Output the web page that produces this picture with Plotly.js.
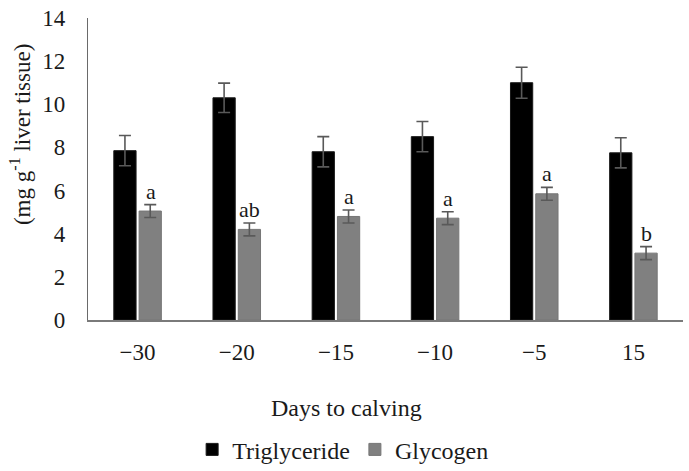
<!DOCTYPE html>
<html>
<head>
<meta charset="utf-8">
<script src="https://cdn.plot.ly/plotly-3.0.1.min.js"></script>
<style>
  html, body { margin: 0; padding: 0; background: #fff; }
  #chart { width: 689px; height: 471px; }
</style>
</head>
<body>
<div id="chart"></div>
<script>
// Days relative to calving
const days = ['\u221230', '\u221220', '\u221215', '\u221210', '\u22125', '15'];

// Liver triglyceride (mg g-1 liver tissue), mean and SE
const triglyceride = [7.85, 10.3, 7.8, 8.5, 11.0, 7.75];
const triglycerideSE = [0.7, 0.68, 0.7, 0.7, 0.72, 0.7];

// Liver glycogen (mg g-1 liver tissue), mean and SE
const glycogen = [5.05, 4.2, 4.8, 4.72, 5.85, 3.1];
const glycogenSE = [0.3, 0.3, 0.3, 0.3, 0.3, 0.3];

// Significance letters for glycogen
const glycogenLetters = ['a', 'ab', 'a', 'a', 'a', 'b'];

const serif = '"Times New Roman", "Liberation Serif", serif';
const textColor = '#1a1a1a';

const traces = [
  {
    type: 'bar', name: 'Triglyceride', x: days, y: triglyceride,
    marker: { color: '#000000', line: { color: '#1a1a1a', width: 1 } },
    error_y: { type: 'data', array: triglycerideSE, visible: true, color: '#595959', thickness: 1.6, width: 6 }
  },
  {
    type: 'bar', name: 'Glycogen', x: days, y: glycogen,
    marker: { color: '#808080', line: { color: '#767676', width: 1 } },
    error_y: { type: 'data', array: glycogenSE, visible: true, color: '#595959', thickness: 1.6, width: 6 }
  }
];

// letters sit above each glycogen error bar (category index positions)
const annotations = glycogenLetters.map((t, i) => ({
  x: i, y: glycogen[i] + glycogenSE[i], xref: 'x', yref: 'y',
  text: t, showarrow: false, xanchor: 'center', yanchor: 'bottom',
  xshift: 13, yshift: -1,
  font: { family: serif, size: 22, color: textColor }
}));

annotations.push({
  text: 'Days to calving', xref: 'paper', yref: 'paper', x: 0.435, y: -0.292,
  xanchor: 'center', yanchor: 'middle', showarrow: false,
  font: { family: serif, size: 24, color: textColor }
});
annotations.push({
  text: '(mg g<sup>-1</sup> liver tissue)', xref: 'paper', yref: 'paper', x: -0.113, y: 0.615,
  xanchor: 'center', yanchor: 'middle', textangle: -90, showarrow: false,
  font: { family: serif, size: 23, color: textColor }
});

const layout = {
  width: 689, height: 471,
  margin: { l: 88, r: 6, t: 18, b: 151, autoexpand: false },
  paper_bgcolor: '#ffffff', plot_bgcolor: '#ffffff',
  barmode: 'group', bargap: 0.49, bargroupgap: 0.12,
  showlegend: true,
  legend: {
    orientation: 'h', x: 0.175, xanchor: 'left',
    yref: 'container', y: 0.045, yanchor: 'middle',
    font: { family: serif, size: 24, color: textColor },
    itemwidth: 30, traceorder: 'normal'
  },
  xaxis: {
    type: 'category', range: [-0.5, days.length - 0.5], autorange: false,
    showgrid: false, zeroline: false,
    showline: true, linecolor: '#7a7a7a', linewidth: 1.5,
    ticks: '', ticklabelstandoff: 11,
    tickfont: { family: serif, size: 23, color: textColor }
  },
  yaxis: {
    range: [0, 14], dtick: 2, showgrid: false, zeroline: false,
    showline: true, linecolor: '#6a6a6a', linewidth: 1.2,
    ticks: '', ticklabelstandoff: 17,
    tickfont: { family: serif, size: 23, color: textColor }
  },
  annotations: annotations
};

Plotly.newPlot('chart', traces, layout, { displayModeBar: false, staticPlot: true });
</script>
</body>
</html>
